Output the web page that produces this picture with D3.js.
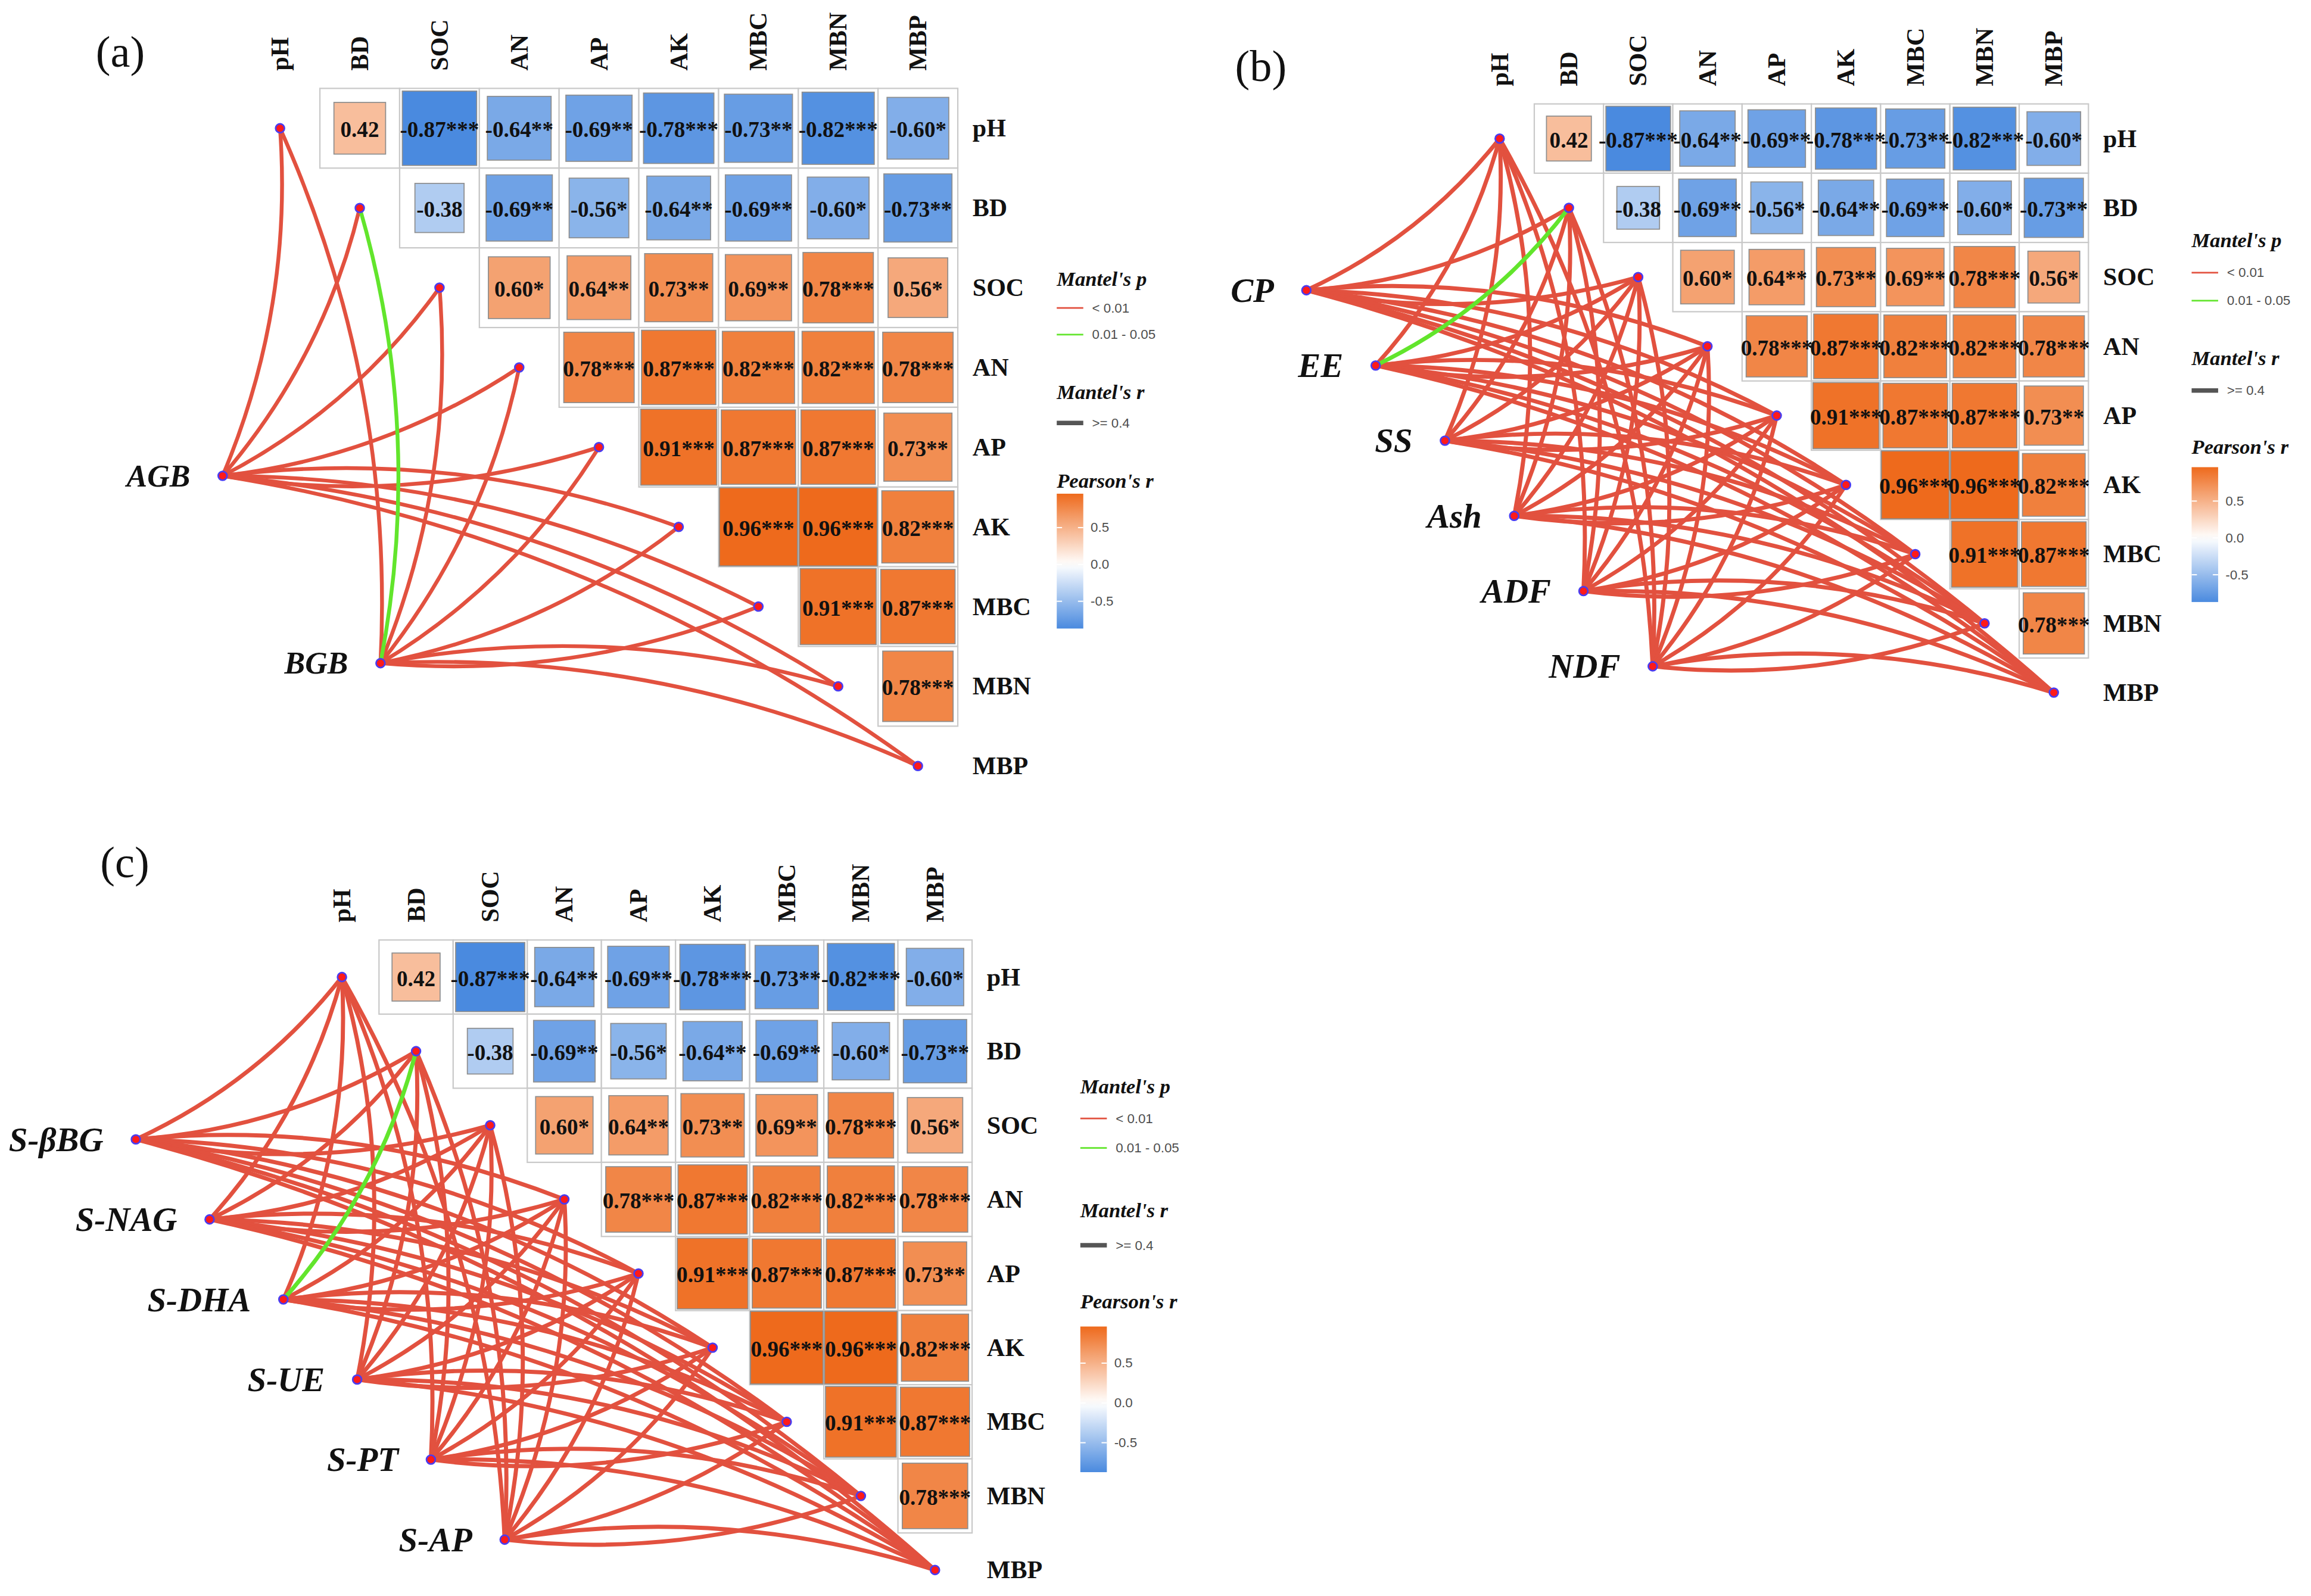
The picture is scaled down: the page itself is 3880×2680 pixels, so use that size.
<!DOCTYPE html>
<html>
<head>
<meta charset="utf-8">
<script src="https://cdn.jsdelivr.net/npm/d3@7"></script>
<style>
  html, body { margin: 0; padding: 0; background: #fff; }
  svg { display: block; }
  text { font-family: "Liberation Serif", "Times New Roman", Times, serif; }
  .cell-frame { fill: #fff; stroke: #c9c9c9; stroke-width: 0.9; }
  .cell-fill { stroke: #8e8e8e; stroke-width: 0.7; }
  .cell-text { font-weight: bold; font-size: 15px; fill: #111; }
  .var-label { font-weight: bold; font-size: 17px; fill: #111; }
  .env-label { font-weight: bold; font-style: italic; fill: #111; }
  .tag { font-size: 30px; fill: #111; }
  .leg-title { font-weight: bold; font-style: italic; font-size: 14px; fill: #111; }
  text.leg-text { font-family: "Liberation Sans", Arial, sans-serif; font-size: 9px; fill: #4d4d4d; }
  .node { fill: #ff1a1a; stroke: #4a3cf0; stroke-width: 1.1; }
</style>
</head>
<body>
<svg id="chart"></svg>
<script>
const VARS = ['pH', 'BD', 'SOC', 'AN', 'AP', 'AK', 'MBC', 'MBN', 'MBP'];

// upper triangle: row i holds Pearson's r of VARS[i] with VARS[i+1..]
const R_VALUES = [
  [0.42, -0.87, -0.64, -0.69, -0.78, -0.73, -0.82, -0.60],
  [-0.38, -0.69, -0.56, -0.64, -0.69, -0.60, -0.73],
  [0.60, 0.64, 0.73, 0.69, 0.78, 0.56],
  [0.78, 0.87, 0.82, 0.82, 0.78],
  [0.91, 0.87, 0.87, 0.73],
  [0.96, 0.96, 0.82],
  [0.91, 0.87],
  [0.78],
];
const R_STARS = [
  ['', '***', '**', '**', '***', '**', '***', '*'],
  ['', '**', '*', '**', '**', '*', '**'],
  ['*', '**', '**', '**', '***', '*'],
  ['***', '***', '***', '***', '***'],
  ['***', '***', '***', '**'],
  ['***', '***', '***'],
  ['***', '***'],
  ['***'],
];

const ENV_A = ['AGB', 'BGB'];
const ENV_B = ['CP', 'EE', 'SS', 'Ash', 'ADF', 'NDF'];
const ENV_C = ['S-βBG', 'S-NAG', 'S-DHA', 'S-UE', 'S-PT', 'S-AP'];

// Mantel's p class per env variable x VARS: 0 = "< 0.01", 1 = "0.01 - 0.05"
const P_A = [
  [0, 0, 0, 0, 0, 0, 0, 0, 0],
  [0, 1, 0, 0, 0, 0, 0, 0, 0],
];
const P_B = [
  [0, 0, 0, 0, 0, 0, 0, 0, 0],
  [0, 1, 0, 0, 0, 0, 0, 0, 0],
  [0, 0, 0, 0, 0, 0, 0, 0, 0],
  [0, 0, 0, 0, 0, 0, 0, 0, 0],
  [0, 0, 0, 0, 0, 0, 0, 0, 0],
  [0, 0, 0, 0, 0, 0, 0, 0, 0],
];
const P_C = [
  [0, 0, 0, 0, 0, 0, 0, 0, 0],
  [0, 0, 0, 0, 0, 0, 0, 0, 0],
  [0, 1, 0, 0, 0, 0, 0, 0, 0],
  [0, 0, 0, 0, 0, 0, 0, 0, 0],
  [0, 0, 0, 0, 0, 0, 0, 0, 0],
  [0, 0, 0, 0, 0, 0, 0, 0, 0],
];

const P_LABELS = ['< 0.01', '0.01 - 0.05'];
const R_LABELS = ['>= 0.4'];
const BAR_TICKS = [0.5, 0, -0.5];
const BAR_TICK_LABELS = ['0.5', '0.0', '-0.5'];

const P_COLORS = ['#e2513f', '#62e52c'];
const fill = d3.scaleLinear()
  .domain([-0.87, 0, 0.96])
  .range(['#4a8adf', '#ffffff', '#ee6a1c'])
  .clamp(true);

const SERIF = '"Liberation Serif", "Times New Roman", Times, serif';

// layout in the 1568 x 1083 design space
const PANELS = [
  { tag: '(a)', tagX: 65, tagY: 35, env: ENV_A, p: P_A,
    x0: 190, y0: 87, step: 54.1, envStart: [-0.72, 4.36], envStep: [1.98, 2.35],
    envFont: 21, lw: 2.6,
    legX: 717, legY: 189, legOff: [20, 38, 77, 98, 137, 194], unit: 50 },
  { tag: '(b)', tagX: 838, tagY: 45, env: ENV_B, p: P_B,
    x0: 1017.5, y0: 94, step: 47, envStart: [-2.79, 2.19], envStep: [1.0, 1.086],
    envFont: 23, lw: 2.8,
    legX: 1487, legY: 163, legOff: [22, 41, 80, 102, 140, 202], unit: 50 },
  { tag: '(c)', tagX: 68, tagY: 585, env: ENV_C, p: P_C,
    x0: 232, y0: 663, step: 50.3, envStart: [-2.78, 2.19], envStep: [0.995, 1.08],
    envFont: 23, lw: 2.8,
    legX: 733, legY: 737, legOff: [22, 42, 84, 108, 146, 215], unit: 54 },
];

const svg = d3.select('#chart')
  .attr('width', 3880).attr('height', 2680)
  .attr('viewBox', '0 0 1568 1083');
svg.append('rect').attr('width', 1568).attr('height', 1083).attr('fill', '#fff');

// gradient for the colour bar
const grad = svg.append('defs').append('linearGradient')
  .attr('id', 'bar-grad').attr('x1', 0).attr('y1', 1).attr('x2', 0).attr('y2', 0);
d3.range(0, 1.0001, 0.05).forEach(t => {
  const v = -0.87 + t * (0.96 + 0.87);
  grad.append('stop').attr('offset', t).attr('stop-color', fill(v));
});

function curvePath(s, e, k) {
  const dx = e[0] - s[0], dy = e[1] - s[1];
  let px = -dy, py = dx;
  if (px < 0) { px = -px; py = -py; }   // bend towards the heatmap side
  const cx = (s[0] + e[0]) / 2 + k * px;
  const cy = (s[1] + e[1]) / 2 + k * py;
  return `M${s[0]},${s[1]} Q${cx},${cy} ${e[0]},${e[1]}`;
}

function drawPanel(cfg) {
  const g = svg.append('g');
  const n = VARS.length;
  const x = d3.scalePoint().domain(VARS).range([cfg.x0, cfg.x0 + (n - 1) * cfg.step]);
  const y = d3.scalePoint().domain(VARS).range([cfg.y0, cfg.y0 + (n - 1) * cfg.step]);
  const s = cfg.step;

  g.append('text').attr('class', 'tag')
    .attr('font-family', SERIF)
    .attr('x', cfg.tagX).attr('y', cfg.tagY)
    .attr('dominant-baseline', 'central')
    .text(cfg.tag);

  // cells
  const cells = [];
  R_VALUES.forEach((row, i) => row.forEach((r, k) => {
    cells.push({ row: VARS[i], col: VARS[i + k + 1], r, lab: r.toFixed(2) + R_STARS[i][k] });
  }));

  g.append('g').selectAll('rect')
    .data(cells).join('rect')
    .attr('class', 'cell-frame')
    .attr('x', d => x(d.col) - s / 2).attr('y', d => y(d.row) - s / 2)
    .attr('width', s).attr('height', s);

  g.append('g').selectAll('rect')
    .data(cells).join('rect')
    .attr('class', 'cell-fill')
    .attr('x', d => x(d.col) - Math.sqrt(Math.abs(d.r)) * s / 2)
    .attr('y', d => y(d.row) - Math.sqrt(Math.abs(d.r)) * s / 2)
    .attr('width', d => Math.sqrt(Math.abs(d.r)) * s)
    .attr('height', d => Math.sqrt(Math.abs(d.r)) * s)
    .attr('fill', d => fill(d.r));

  g.append('g').selectAll('text')
    .data(cells).join('text')
    .attr('class', 'cell-text')
    .attr('font-family', SERIF)
    .attr('x', d => x(d.col)).attr('y', d => y(d.row) + 1)
    .attr('text-anchor', 'middle').attr('dominant-baseline', 'central')
    .text(d => d.lab);

  // axis labels
  const right = cfg.x0 + (n - 0.5) * s;
  g.append('g').selectAll('text')
    .data(VARS).join('text')
    .attr('class', 'var-label')
    .attr('font-family', SERIF)
    .attr('x', right + 10).attr('y', d => y(d))
    .attr('dominant-baseline', 'central')
    .text(d => d);
  g.append('g').selectAll('text')
    .data(VARS).join('text')
    .attr('class', 'var-label')
    .attr('font-family', SERIF)
    .attr('transform', d => `translate(${x(d)},${cfg.y0 - s / 2 - 12}) rotate(-90)`)
    .attr('dominant-baseline', 'central')
    .text(d => d);

  // mantel links
  const envPos = cfg.env.map((e, i) => [
    cfg.x0 + (cfg.envStart[0] + i * cfg.envStep[0]) * s,
    cfg.y0 + (cfg.envStart[1] + i * cfg.envStep[1]) * s,
  ]);
  const links = [];
  cfg.env.forEach((e, i) => VARS.forEach((v, j) => {
    links.push({ s: envPos[i], e: [x(v), y(v)], p: cfg.p[i][j] });
  }));
  links.sort((a, b) => a.p - b.p);
  g.append('g').selectAll('path')
    .data(links).join('path')
    .attr('d', d => curvePath(d.s, d.e, 0.12))
    .attr('fill', 'none')
    .attr('stroke', d => P_COLORS[d.p])
    .attr('stroke-width', cfg.lw)
    .attr('stroke-linecap', 'round');

  g.append('g').selectAll('circle')
    .data(VARS.map(v => [x(v), y(v)]).concat(envPos)).join('circle')
    .attr('class', 'node')
    .attr('cx', d => d[0]).attr('cy', d => d[1]).attr('r', 3);

  g.append('g').selectAll('text')
    .data(cfg.env).join('text')
    .attr('class', 'env-label')
    .attr('font-family', SERIF)
    .attr('font-size', cfg.envFont)
    .attr('x', (d, i) => envPos[i][0] - 22).attr('y', (d, i) => envPos[i][1])
    .attr('text-anchor', 'end').attr('dominant-baseline', 'central')
    .text(d => d);

  drawLegend(g, cfg);
}

function drawLegend(g, cfg) {
  const lx = cfg.legX, ly = cfg.legY, o = cfg.legOff;
  const lg = g.append('g');
  const title = (t, yy) => lg.append('text').attr('class', 'leg-title')
    .attr('font-family', SERIF)
    .attr('x', lx).attr('y', yy).attr('dominant-baseline', 'central').text(t);

  title("Mantel's p", ly);
  P_LABELS.forEach((lab, i) => {
    const yy = ly + o[i];
    lg.append('line').attr('x1', lx).attr('x2', lx + 18).attr('y1', yy).attr('y2', yy)
      .attr('stroke', P_COLORS[i]).attr('stroke-width', 1.1);
    lg.append('text').attr('class', 'leg-text').attr('x', lx + 24).attr('y', yy)
      .attr('dominant-baseline', 'central').text(lab);
  });

  title("Mantel's r", ly + o[2]);
  R_LABELS.forEach(lab => {
    const yy = ly + o[3];
    lg.append('line').attr('x1', lx).attr('x2', lx + 18).attr('y1', yy).attr('y2', yy)
      .attr('stroke', '#555').attr('stroke-width', 3);
    lg.append('text').attr('class', 'leg-text').attr('x', lx + 24).attr('y', yy)
      .attr('dominant-baseline', 'central').text(lab);
  });

  title("Pearson's r", ly + o[4]);
  const zero = ly + o[5];
  const bar = d3.scaleLinear().domain([-0.87, 0.96])
    .range([zero + 0.87 * cfg.unit, zero - 0.96 * cfg.unit]);
  lg.append('rect')
    .attr('x', lx).attr('y', bar(0.96)).attr('width', 18)
    .attr('height', bar(-0.87) - bar(0.96))
    .attr('fill', 'url(#bar-grad)');
  BAR_TICKS.forEach((t, i) => {
    [[lx, lx + 3.6], [lx + 14.4, lx + 18]].forEach(([a, b]) => {
      lg.append('line').attr('x1', a).attr('x2', b)
        .attr('y1', bar(t)).attr('y2', bar(t))
        .attr('stroke', '#fff').attr('stroke-width', 0.8);
    });
    lg.append('text').attr('class', 'leg-text').attr('x', lx + 23).attr('y', bar(t))
      .attr('dominant-baseline', 'central').text(BAR_TICK_LABELS[i]);
  });
}

PANELS.forEach(drawPanel);
</script>
</body>
</html>
